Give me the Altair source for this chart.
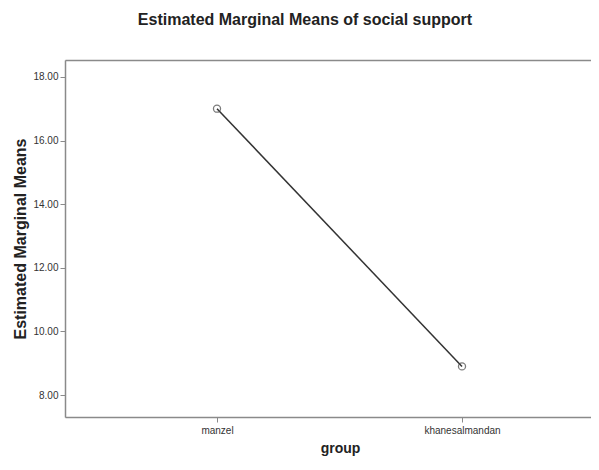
import json
import altair as alt
import pandas as pd

groups = ["manzel", "khanesalmandan"]
means = [17.0, 8.9]
y_ticks = [8, 10, 12, 14, 16, 18]

df = pd.DataFrame({"group": groups, "mean": means, "idx": list(range(len(groups)))})

FONT = "Liberation Sans"
FRAME = "#8a8a8a"

label_expr = json.dumps(groups) + "[round(datum.value)]"
x_scale = alt.Scale(domain=[-0.6204, 1.5265], nice=False, zero=False)

x_enc_bottom = alt.X(
    "idx:Q",
    scale=x_scale,
    axis=alt.Axis(
        title="group", values=[0, 1], labelExpr=label_expr, grid=False,
        labelAngle=0, labelFont=FONT, labelFontSize=10,
        labelColor="#333333", tickColor=FRAME, tickSize=5, labelPadding=3,
        domainColor=FRAME, domainWidth=1.5, titleFont=FONT, titleFontSize=14,
        titleFontWeight="bold", titleColor="#222222", titlePadding=6,
        titleX=275,
    ),
)
x_enc_top = alt.X(
    "idx:Q",
    scale=x_scale,
    axis=alt.Axis(
        orient="top", title=None, labels=False, ticks=False, grid=False,
        domainColor=FRAME, domainWidth=1.5,
    ),
)
y_enc = alt.Y(
    "mean:Q",
    scale=alt.Scale(domain=[7.31, 18.53], nice=False, zero=False),
    axis=alt.Axis(
        values=y_ticks, format=".2f", title="Estimated Marginal Means",
        labelFont=FONT, labelFontSize=10, labelColor="#333333",
        tickColor=FRAME, tickSize=5, labelPadding=2, grid=False,
        domainColor=FRAME, domainWidth=1.5, titleFont=FONT, titleFontSize=16,
        titleFontWeight="bold", titleColor="#222222", titlePadding=4,
    ),
)

line = alt.Chart(df).mark_line(color="#333333", strokeWidth=1.5).encode(
    x=x_enc_bottom, y=y_enc
)
pts = alt.Chart(df).mark_point(
    shape="circle", size=50, filled=False, color="#444444", strokeWidth=1.3
).encode(x=x_enc_top, y="mean:Q")

chart = (
    alt.layer(line, pts)
    .resolve_axis(x="independent")
    .properties(
        width=526,
        height=357,
        autosize=alt.AutoSizeParams(type="none"),
        padding={"left": 57, "top": 52, "right": 0, "bottom": 41},
        title=alt.TitleParams(
            "Estimated Marginal Means of social support",
            font=FONT, fontSize=16, fontWeight="bold", color="#222222",
            anchor="middle", dx=-23, offset=32,
        ),
    )
    .configure_view(stroke=None)
    .configure(background="white")
)

chart.save("out.html", embed_options={"renderer": "svg", "actions": False})
